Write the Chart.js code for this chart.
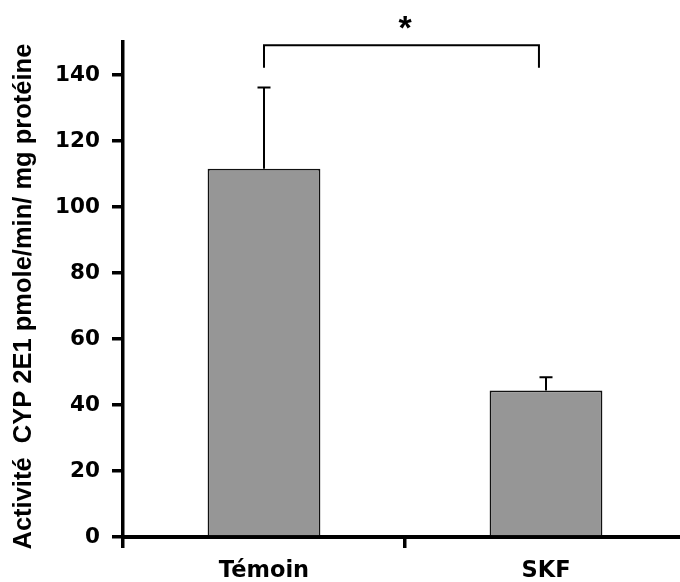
<!DOCTYPE html>
<html>
<head>
<meta charset="utf-8">
<script src="https://cdn.jsdelivr.net/npm/chart.js@4.4.1/dist/chart.umd.min.js"></script>
<style>
    html, body { margin: 0; padding: 0; background: #fff; overflow: hidden; }
</style>
</head>
<body>
<canvas id="cyp-chart" width="700" height="582"></canvas>
<script>
// values
const categories = ['Témoin', 'SKF'];
const activity = [111.6, 44.4];
const errorPlus = [24.6, 4.0];
const yTicks = [0, 20, 40, 60, 80, 100, 120, 140];
// significance bracket (x in category index, y in axis units)
const bracketX = [0, 0.975];
const bracketY = [149, 142.2];
const starX = 0.5;
const starY = 157;
const starText = '*';

const errorBars = {
    id: 'errorBars',
    afterDatasetsDraw(chart) {
        const ctx = chart.ctx;
        const y = chart.scales.y;
        const x = chart.scales.x;
        const meta = chart.getDatasetMeta(0);
        ctx.save();
        ctx.strokeStyle = '#000';
        ctx.lineWidth = 2;
        meta.data.forEach((bar, i) => {
            let top = y.getPixelForValue(activity[i] + errorPlus[i]);
            ctx.beginPath();
            ctx.moveTo(bar.x, bar.y);
            ctx.lineTo(bar.x, top);
            ctx.moveTo(bar.x - 6.5, top);
            ctx.lineTo(bar.x + 6.5, top);
            ctx.stroke();
        });
        // bracket
        let x1 = x.getPixelForValue(bracketX[0]);
        let x2 = x.getPixelForValue(bracketX[1]);
        let yTop = y.getPixelForValue(bracketY[0]);
        let yLeg = y.getPixelForValue(bracketY[1]);
        ctx.beginPath();
        ctx.moveTo(x1, yLeg);
        ctx.lineTo(x1, yTop);
        ctx.lineTo(x2, yTop);
        ctx.lineTo(x2, yLeg);
        ctx.stroke();
        // asterisk
        ctx.fillStyle = '#000';
        ctx.font = 'bold 34px "Liberation Sans", Arial, sans-serif';
        ctx.textAlign = 'center';
        ctx.textBaseline = 'alphabetic';
        ctx.fillText(starText, x.getPixelForValue(starX), y.getPixelForValue(starY) + 20);
        ctx.restore();
    }
};

const chart = new Chart(document.getElementById('cyp-chart'), {
    type: 'bar',
    data: {
        labels: categories,
        datasets: [{
            data: activity,
            backgroundColor: '#969696',
            borderColor: '#111',
            borderWidth: 1.8,
            barPercentage: 0.4,
            categoryPercentage: 1.0
        }]
    },
    options: {
        responsive: false,
        animation: false,
        layout: { padding: { top: 42, right: 13, left: 0, bottom: 0 } },
        plugins: {
            legend: { display: false },
            tooltip: { enabled: false }
        },
        scales: {
            x: {
                offset: true,
                afterFit: (s) => { s.height = 45; },
                border: { display: true, color: '#000', width: 4 },
                grid: {
                    drawOnChartArea: false,
                    drawTicks: true,
                    tickLength: 11,
                    lineWidth: 3.5,
                    color: (c) => c.type === 'tick' ? '#000' : 'rgba(0,0,0,0)'
                },
                ticks: {
                    color: '#000',
                    padding: 10,
                    maxRotation: 0,
                    font: { family: '"DejaVu Sans", sans-serif', size: 22.5, weight: 'bold' }
                }
            },
            y: {
                min: 0,
                max: 150,
                afterBuildTicks: (s) => { s.ticks = yTicks.map(v => ({ value: v })); },
                afterFit: (s) => { s.width = 123; },
                border: { display: true, color: '#000', width: 3.5 },
                grid: {
                    drawOnChartArea: false,
                    drawTicks: true,
                    tickLength: 11,
                    lineWidth: 3.5,
                    color: '#000'
                },
                ticks: {
                    color: '#000',
                    padding: 12,
                    font: { family: '"DejaVu Sans", sans-serif', size: 21.5, weight: 'bold' }
                },
                title: {
                    display: true,
                    text: 'Activité  CYP 2E1 pmole/min/ mg protéine  ',
                    color: '#000',
                    padding: { top: 9, bottom: 0 },
                    font: { family: '"Liberation Sans", Arial, sans-serif', size: 25.5, weight: 'bold' }
                }
            }
        }
    },
    plugins: [errorBars]
});
</script>
</body>
</html>
